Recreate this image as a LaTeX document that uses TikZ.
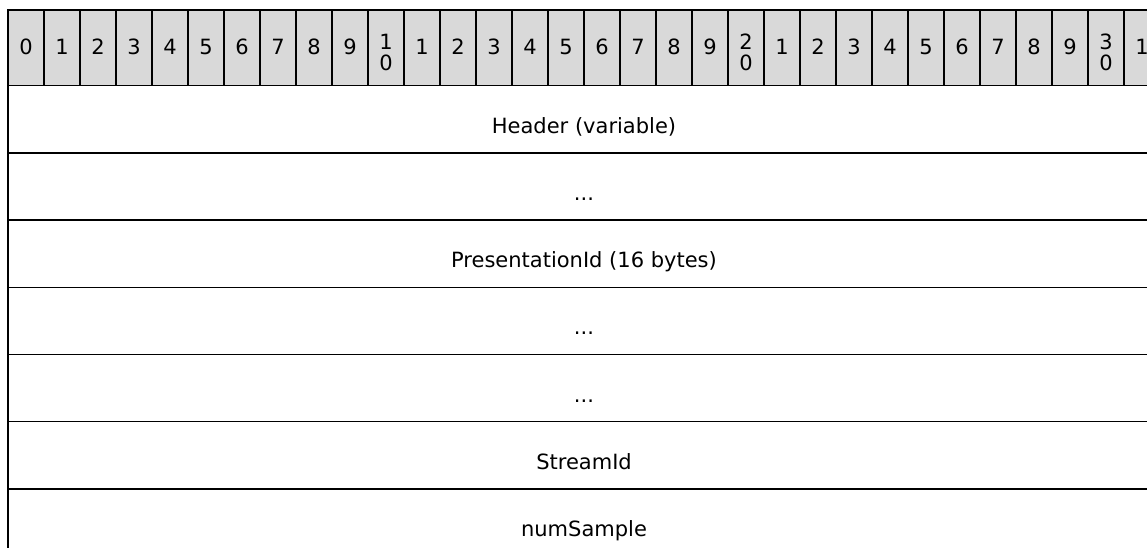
\documentclass[tikz,border=0pt]{standalone}
\usepackage{fontspec}
\setmainfont{DejaVu Sans}
\definecolor{hdrgray}{HTML}{D9D9D9}
\begin{document}
\begin{tikzpicture}[x=1pt,y=-1pt,
  cellbox/.style={draw=black, line width=1.3pt, fill=hdrgray, minimum width=36pt,
    minimum height=75.7pt, inner sep=0pt, outer sep=0pt, anchor=north west},
  digit/.style={inner sep=0pt, anchor=base, font=\fontsize{21}{25}\selectfont},
  rowbox/.style={draw=black, line width=1.5pt, minimum width=1152pt,
    minimum height=67.2pt, inner sep=0pt, outer sep=0pt, anchor=north west},
  rowtext/.style={anchor=base, inner sep=0pt, font=\fontsize{21}{25}\selectfont}]
\useasboundingbox (0,0) rectangle (1147,548);
\clip (0,0) rectangle (1147,548);
% header bit cells
\foreach \i in {0,...,31}{
  \pgfmathtruncatemacro{\dg}{mod(\i,10)}
  \pgfmathtruncatemacro{\tn}{div(\i,10)}
  \node[cellbox] (h\i) at ({8+36*\i},10) {};
  \ifnum\i>0
    \ifnum\dg=0
      \node[digit] (l\i) at ([yshift=-39.3pt]h\i.north) {\tn};
      \node[digit] (m\i) at ([yshift=-60.7pt]h\i.north) {0};
    \else
      \node[digit] (l\i) at ([yshift=-45pt]h\i.north) {\dg};
    \fi
  \else
    \node[digit] (l\i) at ([yshift=-45pt]h\i.north) {\dg};
  \fi
}
% field rows
\node[rowbox] (r1) at (8,85.7) {};
\node[rowbox] (r2) at (8,152.9) {};
\node[rowbox] (r3) at (8,220.1) {};
\node[rowbox] (r4) at (8,287.3) {};
\node[rowbox] (r5) at (8,354.5) {};
\node[rowbox] (r6) at (8,421.7) {};
\node[rowbox] (r7) at (8,488.9) {};
\node[rowtext] (t1) at ([yshift=-47.6pt]r1.north) {Header (variable)};
\node[rowtext] (t2) at ([yshift=-47.6pt]r2.north) {...};
\node[rowtext] (t3) at ([yshift=-47.6pt]r3.north) {PresentationId (16 bytes)};
\node[rowtext] (t4) at ([yshift=-47.6pt]r4.north) {...};
\node[rowtext] (t5) at ([yshift=-47.6pt]r5.north) {...};
\node[rowtext] (t6) at ([yshift=-47.6pt]r6.north) {StreamId};
\node[rowtext] (t7) at ([yshift=-47.6pt]r7.north) {numSample};
\end{tikzpicture}
\end{document}
